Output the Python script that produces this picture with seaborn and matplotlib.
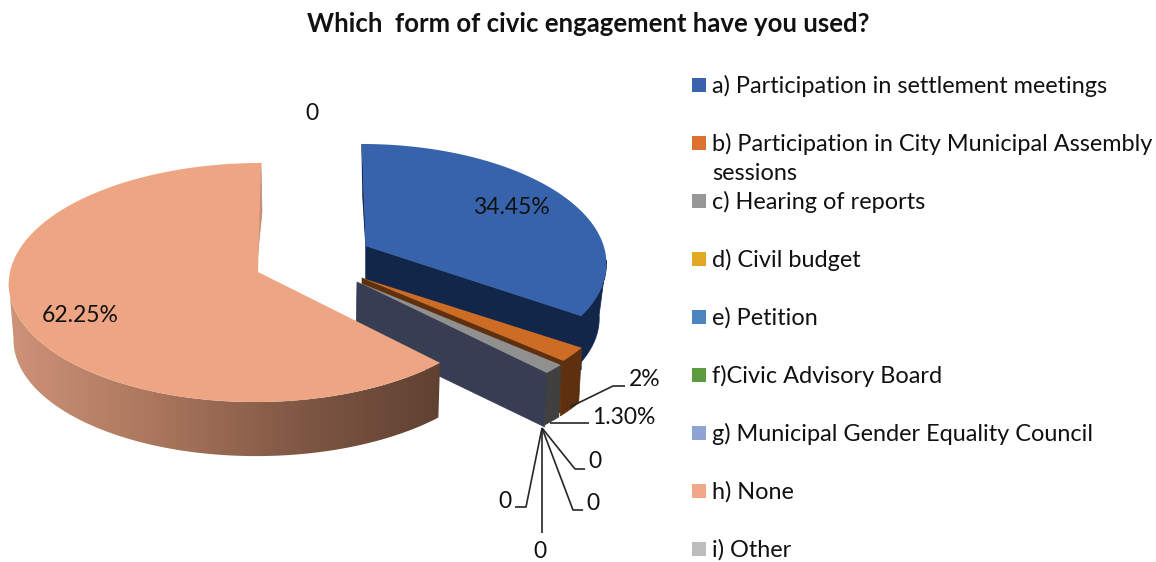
import numpy as np
import matplotlib
matplotlib.use("Agg")
import matplotlib.pyplot as plt
from matplotlib.colors import LinearSegmentedColormap
from matplotlib.patches import Polygon, Rectangle
import seaborn as sns

# Survey results
categories = [
    "a) Participation in settlement meetings",
    "b) Participation in City Municipal Assembly\nsessions",
    "c) Hearing of reports",
    "d) Civil budget",
    "e) Petition",
    "f)Civic Advisory Board",
    "g) Municipal Gender Equality Council",
    "h) None",
    "i) Other",
]
values = [34.45, 2, 1.3, 0, 0, 0, 0, 62.25, 0]
value_labels = ["34.45%", "2%", "1.30%", "0", "0", "0", "0", "62.25%", "0"]
title = "Which  form of civic engagement have you used?"

swatch_colors = ["#3a62ad", "#dd7230", "#979797", "#e3a923", "#4a85bf",
                 "#5d9b3f", "#8fa3d5", "#f0a888", "#bdbdbd"]

sns.set_theme(style="white")
plt.rcParams["font.family"] = ["Lato", "DejaVu Sans"]
palette = sns.color_palette(swatch_colors)

fig = plt.figure(figsize=(11.56, 5.62), dpi=100)
ax = fig.add_axes([0, 0, 1, 1])

# Slice boundaries, clockwise from twelve o'clock
edges = np.concatenate([[0], np.cumsum(values)]) * 3.6


def rim(theta, g, scale=1.0, dx=0.0, dy=0.0):
    """Project angles (deg) on the tilted disc for a slice with geometry g."""
    t = np.radians(np.atleast_1d(theta))
    u, v = np.sin(t), -np.cos(t)
    d = 1 - g["k"] * v
    x = g["cx"] + scale * (g["b"] * u / d + g["s"] * v) + dx
    y = g["cy"] + scale * g["a"] * v / d + dy
    return np.column_stack([x, y])


def top_face(t0, t1, g):
    th = np.linspace(t0, t1, 120)
    return np.vstack([[g["cx"], g["cy"]], rim(th, g)])


def outer_wall(t0, t1, g, dx, dy, scale=1.0):
    th = np.linspace(t0, t1, 120)
    return np.vstack([rim(th, g), rim(th[::-1], g, scale, dx, dy)])


def solid(points, color):
    ax.add_patch(Polygon(points, facecolor=color, edgecolor=color, lw=0.5))


geo_a = dict(cx=365.7, cy=246, a=115.7, k=0.134, b=238, s=4)
geo_b = dict(cx=362, cy=278, a=118.6, k=0.088, b=252, s=0)
geo_c = dict(cx=358, cy=282, a=118.6, k=0.088, b=254, s=0)
geo_h = dict(cx=258, cy=272, a=118.6, k=0.088, b=248, s=-3)

# The side of a slice shows only from the point where its rim turns to the viewer
tangent_right = 97.0
tangent_left = 265.0

# a) settlement meetings: dark side walls, then the top face
navy = "#12264a"
solid(outer_wall(tangent_right, edges[1], geo_a, 0, 55, 0.97), navy)
end_a = rim(edges[1], geo_a)[0]
solid([(geo_a["cx"], geo_a["cy"]), end_a, end_a + (0, 54),
       (geo_a["cx"], geo_a["cy"] + 54)], navy)
start_a = rim(edges[0], geo_a)[0]
solid([start_a, start_a + (1, 53), (geo_a["cx"], geo_a["cy"])], navy)
ax.add_patch(Polygon(top_face(edges[0], edges[1], geo_a), color="#3763ad", lw=0))

# b) assembly sessions
brown = "#5e300f"
solid(outer_wall(edges[1], edges[2], geo_b, -3, 55), brown)
end_b = rim(edges[2], geo_b)[0]
solid([(geo_b["cx"], geo_b["cy"]), end_b, end_b + (-3, 52),
       (geo_b["cx"], geo_b["cy"] + 52)], brown)
ax.add_patch(Polygon(top_face(edges[1], edges[2], geo_b), color="#cd6c25", lw=0))

# Radial wall left by the empty slices that follow c)
end_c = rim(edges[3], geo_c)[0]
solid([(geo_c["cx"] - 1, geo_c["cy"]), end_c, end_c + (-2, 54),
       (geo_c["cx"] - 2, geo_c["cy"] + 54)], "#373e54")

# c) hearing of reports
solid(outer_wall(edges[2], edges[3], geo_c, -2, 52), "#404040")
ax.add_patch(Polygon(top_face(edges[2], edges[3], geo_c), color="#909090", lw=0))

# h) none: rim shaded with a horizontal gradient clipped to its outline
shade = LinearSegmentedColormap.from_list(
    "rim", [(0.0, "#cf9479"), (0.35, "#a9755c"), (0.70, "#7c5542"), (1.0, "#5f4031")])
th = np.linspace(edges[7], tangent_left, 300)
wall_h = Polygon(np.vstack([rim(th, geo_h), rim(th[::-1], geo_h, 0.985, 1, 56)]),
                 facecolor="none", edgecolor="none", lw=0)
ax.add_patch(wall_h)
grad = ax.imshow(np.linspace(0, 1, 256)[None, :], cmap=shade, aspect="auto",
                 extent=(5, 445, 480, 270), interpolation="bilinear", zorder=1)
grad.set_clip_path(wall_h)
start_h = rim(edges[8], geo_h)[0]
solid([start_h, start_h + (1, 49), (geo_h["cx"] - 2, geo_h["cy"])], "#c48f75")
ax.add_patch(Polygon(top_face(edges[7], edges[8], geo_h), color="#eea583", lw=0))

# Leader lines for the small and empty slices
leaders = [
    [(570, 407), (613, 386), (625, 386)],
    [(550, 423), (589, 423)],
    [(542, 428), (575, 469), (585, 469)],
    [(542, 428), (573, 510), (583, 510)],
    [(542, 428), (542, 533)],
    [(542, 428), (526, 507), (515, 507)],
]
for pts in leaders:
    xs, ys = zip(*pts)
    ax.plot(xs, ys, color="#262626", lw=1.2, solid_capstyle="butt")

# Data labels, in slice order
label_pos = [(511, 207), (645, 380), (624, 418), (595, 462), (593, 504),
             (505, 501), (540, 552), (80, 315), (312, 113)]
for text, (x, y) in zip(value_labels, label_pos):
    ax.text(x, y, text, ha="center", va="center", fontsize=16.5, color="#111111")

# Legend column
for i, (name, col) in enumerate(zip(categories, palette)):
    y = 85 + 58 * i
    ax.add_patch(Rectangle((692, y - 7), 14, 14, color=col, lw=0))
    for j, line in enumerate(name.split("\n")):
        ax.text(712, y + 1 + j * 29.5, line, ha="left", va="center",
                fontsize=16.9, color="#111111")

ax.text(588, 24, title, ha="center", va="center", fontsize=18.5,
        fontweight="bold", color="#111111")

ax.set_xlim(0, 1156)
ax.set_ylim(562, 0)
ax.axis("off")

fig.savefig("out.png", dpi=100)
